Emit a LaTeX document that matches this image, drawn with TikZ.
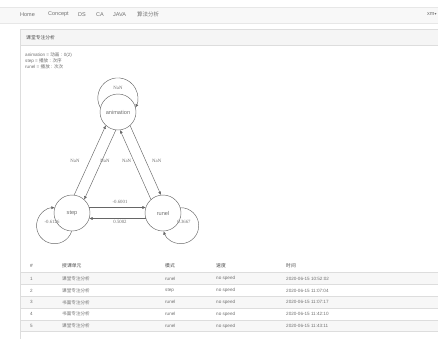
\documentclass[tikz,border=0pt]{standalone}
\usepackage{fontspec}
\setmainfont{Liberation Sans}
\newfontfamily\numfont{Liberation Serif}
\newfontfamily\cjk{Noto Sans CJK SC}
\newfontfamily\symfont{DejaVu Sans}
\usetikzlibrary{calc,arrows.meta}

\definecolor{txtgray}{HTML}{707070}
\definecolor{navbg}{HTML}{F8F8F8}
\definecolor{navline}{HTML}{E7E7E7}
\definecolor{headbg}{HTML}{F5F5F5}
\definecolor{rule}{HTML}{DDDDDD}
\definecolor{stripe}{HTML}{F7F7F7}
\definecolor{graphline}{HTML}{666666}

% one directed edge of a pair, offset to the left of its direction;
% the label sits at the midpoint, moved by the given shifts
\newcommand\pedge[4][]{%
  \draw[edgeline] ($(#2)!5.5pt!90:(#3)$) -- node[elabel,#1] {#4} ($(#3)!5.5pt!-90:(#2)$);}

\begin{document}
\begin{tikzpicture}[x=1pt,y=-1pt,
  navtext/.style={anchor=west,text=txtgray,font=\fontsize{5.5}{6}\selectfont,inner sep=0},
  smalltext/.style={anchor=west,text=txtgray,font=\fontsize{4.6}{5.5}\selectfont,inner sep=0},
  headtext/.style={anchor=west,text=black!70,font=\fontsize{4.8}{5.5}\selectfont,inner sep=0},
  state/.style={circle,draw=graphline,line width=0.45pt,minimum size=36pt,inner sep=0,
    text=txtgray,font=\fontsize{5.6}{6}\selectfont},
  edgeline/.style={draw=graphline,line width=0.45pt,shorten <=17.1pt,shorten >=17.1pt,
    -{Latex[length=3.5pt,width=3pt]}},
  loopline/.style={draw=graphline,line width=0.45pt,-{Latex[length=3.5pt,width=3pt]}},
  elabel/.style={midway,inner sep=0,text=txtgray,font=\numfont\fontsize{4.8}{5}\selectfont},
  looplabel/.style={inner sep=0,text=txtgray,font=\numfont\fontsize{4.8}{5}\selectfont}]

\useasboundingbox (0,0) rectangle (438,338);
\fill[white] (0,0) rectangle (438,338);

% navigation bar
\filldraw[fill=navbg,draw=navline,line width=0.4pt] (-1,7) rectangle (439,23);
\node[navtext] (home) at (20,14.5) {Home};
\node[navtext] (concept) at (48,14.5) {Concept};
\node[navtext] (ds) at (78,14.5) {DS};
\node[navtext] (ca) at (96,14.5) {CA};
\node[navtext] (java) at (113,14.5) {JAVA};
\node[navtext] (algo) at (137,14.5) {\cjk 算法分析};
\node[navtext] (user) at (427,14.5) {xm{\symfont\fontsize{4}{4}\selectfont ▾}};

% panel
\filldraw[fill=headbg,draw=rule,line width=0.4pt] (20,29) rectangle (440,45);
\draw[rule,line width=0.4pt] (20,45) -- (20,340);
\node[headtext] (title) at (26,37.5) {\cjk 课堂专注分析};

\node[smalltext] (lg1) at (25,55) {animation = {\cjk 动画} : 0(2)};
\node[smalltext] (lg2) at (25,61) {step = {\cjk 播放} : {\cjk 次序}};
\node[smalltext] (lg3) at (25,67) {runel = {\cjk 播放} : {\cjk 次次}};

% state graph
\node[state] (anim) at (118,112) {animation};
\node[state] (step) at (72,213) {step};
\node[state] (runel) at (163,213) {runel};

\pedge[xshift=-15pt,yshift=-0.8pt]{step}{anim}{NaN}
\pedge[xshift=5pt,yshift=3.8pt]{anim}{step}{NaN}
\pedge[xshift=11.2pt,yshift=-0.7pt]{anim}{runel}{NaN}
\pedge[xshift=-8.8pt,yshift=3.7pt]{runel}{anim}{NaN}
\pedge[xshift=2.5pt,yshift=5.5pt]{step}{runel}{-0.6001}
\pedge[xshift=2.5pt,yshift=-3.2pt]{runel}{step}{0.5002}

% self loops
\draw[loopline] (anim.166) arc[start angle=209,end angle=-29,radius=20pt];
\node[looplabel] (lanim) at (118,88) {NaN};
\draw[loopline] (step.-91) arc[start angle=-17.8,end angle=-271,radius=18pt];
\node[looplabel] (lstep) at (52,222) {-0.6126};
\draw[loopline] (runel.17.7) arc[start angle=91,end angle=-162.2,radius=18pt];
\node[looplabel] (lrunel) at (184,222) {0.3667};

% table
\draw[rule,line width=0.6pt] (21,272.5) -- (440,272.5);
\foreach \y in {1,3,5}
  \fill[stripe] (21,{272.8+11.8*(\y-1)}) rectangle (440,{272.8+11.8*\y});
\foreach \y in {1,...,5}
  \draw[rule,line width=0.3pt] (21,{272.5+11.8*\y}) -- (440,{272.5+11.8*\y});

\node[headtext] (h1) at (30,266) {\#};
\node[headtext] (h2) at (62,266) {\cjk 授课单元};
\node[headtext] (h3) at (165,266) {\cjk 模式};
\node[headtext] (h4) at (216,266) {\cjk 速度};
\node[headtext] (h5) at (286,266) {\cjk 时间};

\foreach \i/\unit/\mode/\tm in {
    1/课堂专注分析/runel/2020-06-15 10:52:02,
    2/课堂专注分析/step/2020-06-15 11:07:04,
    3/书面专注分析/runel/2020-06-15 11:07:17,
    4/书面专注分析/runel/2020-06-15 11:42:10,
    5/课堂专注分析/runel/2020-06-15 11:43:11} {
  \node[smalltext] (c1\i) at (30,{278.7+11.8*(\i-1)}) {\i};
  \node[smalltext] (c2\i) at (62,{278.7+11.8*(\i-1)}) {\cjk \unit};
  \node[smalltext] (c3\i) at (165,{278.7+11.8*(\i-1)}) {\mode};
  \node[smalltext] (c4\i) at (216,{278.7+11.8*(\i-1)}) {no speed};
  \node[smalltext] (c5\i) at (286,{278.7+11.8*(\i-1)}) {\tm};
}
\end{tikzpicture}
\end{document}
